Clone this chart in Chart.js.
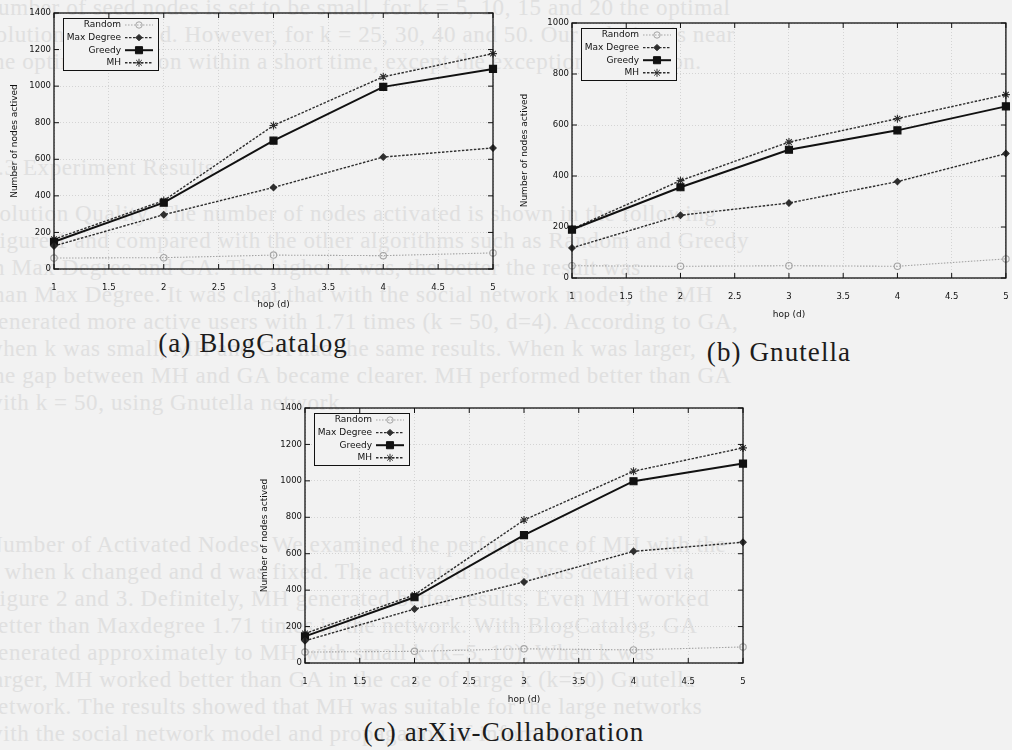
<!DOCTYPE html>
<html>
<head>
<meta charset="utf-8">
<script src="https://cdn.jsdelivr.net/npm/chart.js@4.4.0/dist/chart.umd.min.js"></script>
<style>
  body { margin: 0; background: #f2f2f2; width: 1012px; height: 750px; overflow: hidden; position: relative; }
  #ghost { position: absolute; left: 0; top: 0; width: 1012px; height: 750px; overflow: hidden;
           font-family: "Liberation Serif", serif; font-size: 23px; color: #e0e0e0; letter-spacing: 0.6px; }
  #ghost div { position: absolute; left: -14px; white-space: nowrap; }
  .panel { position: absolute; }
  .cap { position: absolute; font-family: "Liberation Serif", serif; font-size: 27px; letter-spacing: 1.1px; color: #1c1c1c;
         white-space: nowrap; transform: translate(-50%, -50%); }
</style>
</head>
<body>
<div id="ghost"></div>

<div class="panel" style="left:0px;top:0px;width:510px;height:320px"><canvas id="blogChart"></canvas></div>
<div class="panel" style="left:510px;top:10px;width:502px;height:320px"><canvas id="gnuChart"></canvas></div>
<div class="panel" style="left:250px;top:395px;width:510px;height:320px"><canvas id="arxivChart"></canvas></div>

<div class="cap" style="left:253px;top:343px">(a) BlogCatalog</div>
<div class="cap" style="left:779px;top:352px">(b) Gnutella</div>
<div class="cap" style="left:504px;top:732px">(c) arXiv-Collaboration</div>

<script>
const hops = [1, 2, 3, 4, 5];
const seriesNames = ["Random", "Max Degree", "Greedy", "MH"];

const blogRandom = [60, 62, 76, 73, 88];
const blogMaxDegree = [126, 297, 446, 612, 662];
const blogGreedy = [149, 363, 702, 996, 1094];
const blogMH = [163, 374, 785, 1051, 1178];

const gnuRandom = [48, 46, 48, 46, 75];
const gnuMaxDegree = [118, 246, 294, 378, 488];
const gnuGreedy = [190, 356, 503, 579, 673];
const gnuMH = [192, 382, 533, 625, 719];

const arxivRandom = [60, 64, 78, 72, 88];
const arxivMaxDegree = [122, 296, 445, 613, 663];
const arxivGreedy = [146, 361, 702, 998, 1095];
const arxivMH = [162, 374, 785, 1053, 1181];

// faint text of the scanned page behind the figure
const ghostLines = [
    [8, "number of seed nodes is set to be small, for k = 5, 10, 15 and 20 the optimal"],
    [35, "solution was found. However, for k = 25, 30, 40 and 50. Our solution is near"],
    [62, "the optimal solution within a short time, except the exceptional situation."],
    [168, "                   5.3   Experiment Results"],
    [214, "Solution Quality. The number of nodes activated is shown in the following"],
    [241, "Figure 1 and compared with the other algorithms such as Random and Greedy"],
    [268, "in Max Degree and GA. The higher k was, the better the result was"],
    [295, "than Max Degree. It was clear that with the social network model, the MH"],
    [322, "generated more active users with 1.71 times (k = 50, d=4). According to GA,"],
    [349, "when k was small, MH and GA had the same results. When k was larger,"],
    [376, "the gap between MH and GA became clearer. MH performed better than GA"],
    [403, "with k = 50, using Gnutella network."],
    [545, "Number of Activated Nodes. We examined the performance of MH with the"],
    [572, "d when k changed and d was fixed. The activated nodes was detailed via"],
    [599, "Figure 2 and 3. Definitely, MH generated better results. Even MH worked"],
    [626, "better than Maxdegree 1.71 times in the network. With BlogCatalog, GA"],
    [653, "generated approximately to MH with small k (k=5, 10). When k was"],
    [680, "larger, MH worked better than GA in the case of large k (k=50) Gnutella"],
    [707, "network. The results showed that MH was suitable for the large networks"],
    [734, "with the social network model and propagation of information."]
];
const ghost = document.getElementById("ghost");
ghostLines.forEach(([y, text]) => {
    const d = document.createElement("div");
    d.style.top = (y - 13) + "px";
    d.textContent = text;
    ghost.appendChild(d);
});

const PAGE = "#f2f2f2";
const FONT = "'DejaVu Sans', sans-serif";
const INK = "#111";

const styles = [
    { color: "#a5a5a5", dash: [1.5, 1.5], width: 1.1, point: "circle", radius: 3.2, fill: "rgba(0,0,0,0)" },
    { color: "#2e2e2e", dash: [2.5, 1.5], width: 1.4, point: "rectRot", radius: 3.2, fill: "#2e2e2e" },
    { color: "#111", dash: [], width: 2, point: "rect", radius: 5, fill: "#111" },
    { color: "#2e2e2e", dash: [2.5, 1.5], width: 1.4, point: "star", radius: 4, fill: "#2e2e2e" }
];

const gnuFrame = {
    id: "gnuFrame",
    afterDraw(chart) {
        const ctx = chart.ctx;
        const ca = chart.chartArea;
        const xs = chart.scales.x, ys = chart.scales.y;
        ctx.save();
        ctx.strokeStyle = INK;
        ctx.lineWidth = 1.3;
        ctx.strokeRect(ca.left, ca.top, ca.right - ca.left, ca.bottom - ca.top);
        ctx.lineWidth = 1;
        ctx.beginPath();
        xs.ticks.forEach(t => {
            const px = xs.getPixelForValue(t.value);
            ctx.moveTo(px, ca.bottom); ctx.lineTo(px, ca.bottom - 5);
            ctx.moveTo(px, ca.top); ctx.lineTo(px, ca.top + 5);
        });
        ys.ticks.forEach(t => {
            const py = ys.getPixelForValue(t.value);
            ctx.moveTo(ca.left, py); ctx.lineTo(ca.left + 5, py);
            ctx.moveTo(ca.right, py); ctx.lineTo(ca.right - 5, py);
        });
        ctx.stroke();

        // key box, gnuplot style
        const bx = ca.left + 9, by = ca.top + 5, bw = 95, bh = 52;
        ctx.fillStyle = PAGE;
        ctx.fillRect(bx, by, bw, bh);
        ctx.strokeStyle = INK;
        ctx.strokeRect(bx + 0.5, by + 0.5, bw, bh);
        ctx.font = "9px " + FONT;
        ctx.textAlign = "right";
        ctx.textBaseline = "middle";
        chart.data.datasets.forEach((ds, i) => {
            const y = by + 7 + i * 12.6;
            ctx.fillStyle = INK;
            ctx.fillText(ds.label, bx + 58, y);
            ctx.strokeStyle = ds.borderColor;
            ctx.lineWidth = ds.borderWidth;
            ctx.setLineDash(ds.borderDash);
            ctx.beginPath();
            ctx.moveTo(bx + 62, y); ctx.lineTo(bx + 90, y);
            ctx.stroke();
            ctx.setLineDash([]);
            ctx.fillStyle = ds.pointBackgroundColor;
            ctx.strokeStyle = ds.pointBorderColor;
            ctx.lineWidth = 1;
            Chart.helpers.drawPoint(ctx, { pointStyle: ds.pointStyle, radius: ds.pointRadius, rotation: 0, borderWidth: 1 }, bx + 76, y);
        });
        ctx.restore();
    }
};

function makeChart(id, values, yMax, area) {
    const canvas = document.getElementById(id);
    const box = canvas.parentElement;
    const W = box.clientWidth, H = box.clientHeight;
    const datasets = values.map((vals, i) => ({
        label: seriesNames[i],
        data: hops.map((h, j) => ({ x: h, y: vals[j] })),
        borderColor: styles[i].color,
        borderWidth: styles[i].width,
        borderDash: styles[i].dash,
        pointStyle: styles[i].point,
        pointRadius: styles[i].radius,
        pointBackgroundColor: styles[i].fill,
        pointBorderColor: styles[i].color,
        pointBorderWidth: 1.1,
        tension: 0,
        fill: false,
        clip: false
    }));
    return new Chart(canvas.getContext("2d"), {
        type: "line",
        data: { datasets },
        options: {
            responsive: true,
            maintainAspectRatio: false,
            animation: false,
            layout: { padding: { top: area.top, right: W - area.right, left: 0, bottom: 0 } },
            plugins: { legend: { display: false }, tooltip: { enabled: false } },
            scales: {
                x: {
                    type: "linear", min: 1, max: 5,
                    ticks: { stepSize: 0.5, padding: 14, color: INK, font: { family: FONT, size: 8.5 }, maxRotation: 0,
                             callback: v => String(v) },
                    grid: { color: "#d4d4d4", drawTicks: false },
                    border: { display: false, dash: [1, 2] },
                    title: { display: true, text: "hop (d)", color: INK, font: { family: FONT, size: 9 }, padding: { top: 0, bottom: 10 } },
                    afterFit: s => { s.height = H - area.bottom; s.paddingLeft = 0; s.paddingRight = 0; }
                },
                y: {
                    min: 0, max: yMax,
                    ticks: { stepSize: 200, padding: 3, color: INK, font: { family: FONT, size: 8.5 },
                             callback: v => String(v) },
                    grid: { color: "#d4d4d4", drawTicks: false },
                    border: { display: false, dash: [1, 2] },
                    title: { display: true, text: "Number of nodes actived", color: INK, font: { family: FONT, size: 9 }, padding: { top: 9, bottom: 0 } },
                    afterFit: s => { s.width = area.left; s.paddingTop = 0; s.paddingBottom = 0; }
                }
            }
        },
        plugins: [gnuFrame]
    });
}

makeChart("blogChart", [blogRandom, blogMaxDegree, blogGreedy, blogMH], 1400, { left: 54, right: 493, top: 13, bottom: 269 });
makeChart("gnuChart", [gnuRandom, gnuMaxDegree, gnuGreedy, gnuMH], 1000, { left: 62, right: 500, top: 13, bottom: 268 });
makeChart("arxivChart", [arxivRandom, arxivMaxDegree, arxivGreedy, arxivMH], 1400, { left: 55, right: 493, top: 13, bottom: 268 });
</script>
</body>
</html>
